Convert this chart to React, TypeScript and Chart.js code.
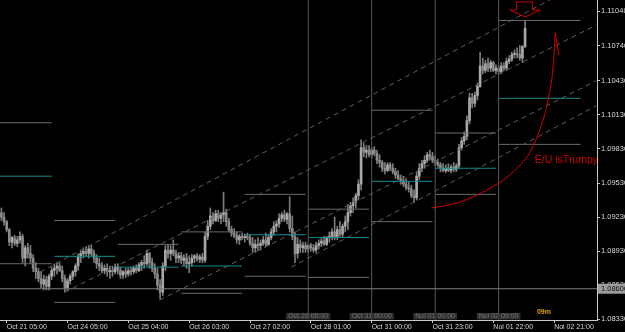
import React, { useEffect, useRef } from "react";
import { Chart, registerables } from "chart.js";

Chart.register(...registerables);

// ---------- data (prices expressed in pips above BASE_PRICE) ----------
const BASE_PRICE = 1.08;
const PIP = 0.0001;
const FIRST_BAR = -2; // bar index of the first candle (bar 0 = Oct 21 05:00, H1)

const openPips = [
  127, 123, 119, 112, 101, 105, 100, 103, 106, 87, 96, 91, 87, 78, 75, 69, 64, 68, 62, 71,
  76, 78, 80, 76, 69, 61, 67, 71, 75, 80, 88, 91, 93, 91, 95, 91, 87, 82, 80, 76,
  78, 75, 76, 75, 79, 76, 72, 75, 73, 76, 75, 78, 76, 81, 83, 82, 91, 83, 78, 73,
  63, 57, 80, 94, 91, 94, 91, 87, 89, 85, 87, 82, 83, 87, 89, 86, 88, 85, 106, 115,
  124, 120, 126, 122, 125, 127, 119, 112, 109, 107, 103, 106, 105, 106, 105, 100, 96, 99, 98, 100,
  103, 99, 105, 110, 115, 117, 122, 125, 121, 126, 113, 106, 91, 99, 96, 98, 95, 98, 96, 94,
  98, 100, 102, 99, 105, 106, 110, 106, 112, 108, 115, 119, 127, 133, 136, 142, 152, 184, 180, 182,
  178, 182, 179, 173, 171, 166, 164, 169, 166, 163, 160, 157, 155, 152, 149, 148, 142, 140, 159, 166,
  170, 173, 178, 176, 173, 171, 169, 166, 164, 166, 164, 167, 165, 168, 184, 190, 194, 208, 228, 223,
  230, 238, 256, 252, 258, 254, 259, 252, 254, 251, 256, 254, 260, 262, 266, 267, 266, 263, 273,
];
const highPips = [
  131, 127, 120, 113, 106, 107, 106, 110, 108, 98, 100, 98, 90, 83, 78, 75, 72, 71, 73, 79,
  82, 83, 83, 80, 72, 69, 73, 76, 82, 91, 94, 96, 97, 98, 98, 94, 90, 87, 83, 81,
  82, 80, 80, 82, 82, 79, 76, 78, 78, 79, 80, 81, 83, 85, 89, 94, 92, 87, 82, 78,
  68, 83, 98, 99, 98, 103, 94, 92, 92, 90, 91, 89, 90, 90, 91, 90, 91, 110, 120, 131,
  127, 129, 129, 127, 145, 130, 122, 115, 113, 110, 108, 109, 108, 109, 107, 105, 103, 105, 103, 106,
  109, 108, 113, 119, 120, 126, 127, 129, 127, 141, 124, 110, 105, 103, 101, 101, 99, 100, 99, 101,
  103, 105, 106, 106, 110, 113, 123, 115, 119, 117, 124, 134, 136, 140, 144, 156, 191, 188, 186, 186,
  184, 185, 182, 178, 173, 171, 171, 171, 170, 166, 164, 160, 159, 157, 154, 151, 147, 163, 170, 173,
  177, 180, 182, 180, 177, 174, 171, 170, 169, 170, 169, 171, 170, 187, 193, 198, 212, 232, 232, 233,
  241, 268, 263, 261, 263, 261, 260, 257, 256, 259, 259, 263, 265, 268, 270, 272, 274, 274, 296,
];
const lowPips = [
  120, 116, 110, 98, 96, 98, 97, 100, 83, 80, 87, 83, 75, 69, 66, 61, 59, 59, 59, 68,
  71, 73, 75, 66, 57, 58, 64, 68, 71, 76, 83, 87, 89, 87, 89, 83, 78, 76, 74, 73,
  71, 69, 71, 73, 73, 69, 69, 70, 71, 72, 73, 74, 75, 76, 78, 80, 78, 75, 69, 59,
  51, 54, 76, 87, 85, 89, 83, 83, 82, 80, 78, 74, 80, 83, 84, 83, 83, 83, 103, 112,
  117, 119, 119, 117, 119, 115, 110, 106, 105, 100, 99, 103, 101, 103, 98, 92, 92, 94, 94, 98,
  97, 98, 103, 107, 110, 114, 119, 119, 117, 110, 103, 83, 87, 92, 92, 92, 92, 93, 92, 92,
  95, 97, 98, 98, 101, 103, 103, 103, 106, 105, 110, 112, 124, 127, 131, 138, 147, 176, 175, 176,
  175, 177, 170, 167, 163, 161, 163, 164, 161, 157, 156, 152, 150, 147, 145, 140, 136, 138, 156, 163,
  166, 171, 173, 171, 168, 167, 163, 163, 162, 163, 162, 163, 163, 166, 182, 187, 191, 205, 219, 220,
  226, 237, 249, 250, 251, 251, 251, 249, 249, 249, 252, 252, 258, 260, 263, 263, 261, 259, 272,
];
const closePips = [
  123, 119, 112, 101, 105, 100, 103, 106, 87, 96, 91, 87, 78, 75, 69, 64, 68, 62, 71, 76,
  78, 80, 76, 69, 61, 67, 71, 75, 80, 88, 91, 93, 91, 95, 91, 87, 82, 80, 76, 78,
  75, 76, 75, 79, 76, 72, 75, 73, 76, 75, 78, 76, 81, 83, 82, 91, 83, 78, 73, 63,
  57, 80, 94, 91, 94, 91, 87, 89, 85, 87, 82, 83, 87, 89, 86, 88, 85, 106, 115, 124,
  120, 126, 122, 125, 127, 119, 112, 109, 107, 103, 106, 105, 106, 105, 100, 96, 99, 98, 100, 103,
  99, 105, 110, 115, 117, 122, 125, 121, 126, 113, 106, 91, 99, 96, 98, 95, 98, 96, 94, 98,
  100, 102, 99, 105, 106, 110, 106, 112, 108, 115, 119, 127, 133, 136, 142, 152, 184, 180, 182, 178,
  182, 179, 173, 171, 166, 164, 169, 166, 163, 160, 157, 155, 152, 149, 148, 142, 140, 159, 166, 170,
  173, 178, 176, 173, 171, 169, 166, 164, 166, 164, 167, 165, 168, 184, 190, 194, 208, 228, 223, 230,
  238, 256, 252, 258, 254, 259, 252, 254, 251, 256, 254, 260, 262, 266, 267, 266, 263, 273, 289,
];

// axis ticks
const xTickBars = [0, 23, 46, 69, 92, 115, 138, 161, 184, 207];
const xTickLabels = [
  "Oct 21 05:00", "Oct 24 05:00", "Oct 25 04:00", "Oct 26 03:00", "Oct 27 02:00",
  "Oct 28 01:00", "Oct 31 00:00", "Oct 31 23:00", "Noi 01 22:00", "Noi 02 21:00",
];
const yTickValues = [1.1104, 1.1074, 1.1043, 1.1013, 1.0983, 1.0953, 1.0923, 1.0893, 1.0863, 1.0833];
const yTickLabels = [
  "1.11040", "1.10740", "1.10430", "1.10130", "1.09830",
  "1.09530", "1.09230", "1.08930", "1.08630", "1.08330",
];
const Y_MIN = 1.08325;
const Y_MAX = 1.1114;
const X_MIN = -2.53;
const X_MAX = 223.2;

// day separators (vertical lines)
const separatorBars = [114, 138, 162, 186];
const separatorLabels = ["Oct 28 00:00", "Oct 31 00:00", "Noi 01 00:00", "Noi 02 00:00"];

// daily levels (pips)
const daySegStart = [-3, 18, 42, 66, 90, 114, 138, 162, 186];
const daySegEnd = [17, 41, 65, 89, 113, 137, 161, 185, 217];
const dayUpperPips = [206, 120, 99, 110, 143, 130, 217, 197, 296];
const dayPivotPips = [159, 88.5, 79, 80, 107.5, 105, 154.5, 166, 227.5];
const dayLowerPips: (number | null)[] = [82, 48, null, 56, 71, 70, 119, 143, 187];

// horizontal line
const hLinePrice = 1.086;
const hLineLabel = "1.08600";

// dashed channel lines
const channelStartBar = [12.6, 22, 57.8, 107.6];
const channelStartPips = [74.7, 57, 50, 79];
const channelEndBar = [223, 223, 223, 223];
const channelEndPips = [336, 292, 243, 221];

// red hand-drawn curve
const curveBars = [160.8, 171.4, 181.6, 189.2, 194.1, 197.9, 202.8, 204.7, 206.6, 207.4];
const curvePips = [131, 136.3, 146.9, 158.3, 168.8, 180.3, 208.4, 226, 255.1, 285];
const barbBars = [207.4, 208.8];
const barbPips = [285, 265.6];

// annotations
const arrowBar = 196;
const noteText = "E/U isTrumpy";
const noteBar = 199.7;
const notePips = 173;
const timerText = "09m";
const timerBar = 200.5;

// ---------- styles ----------
const FONT = '"Liberation Sans", Arial, sans-serif';
const AXIS = "#c8c8c8";
const TEXT = "#d8d8d8";
const WICK = "#7c7c7c";
const BULL = "#a8a8a8";
const BEAR = "#8a8a8a";
const LEVEL_GRAY = "#6a6a6a";
const TEAL = "#128c8c";
const SEP = "#585858";
const DASH = "#5e5e5e";
const RED = "#d20000";

const price = (p: number) => BASE_PRICE + p * PIP;

export default function App() {
  const ref = useRef<HTMLCanvasElement>(null);

  useEffect(() => {
    const canvas = ref.current;
    if (!canvas) return;

    const wickData = openPips.map((_, k) => ({ x: FIRST_BAR + k, y: [price(lowPips[k]), price(highPips[k])] }));
    const bodyData = openPips.map((o, k) => ({
      x: FIRST_BAR + k,
      y: [price(Math.min(o, closePips[k])), price(Math.max(o, closePips[k]))],
    }));
    const bodyColors = openPips.map((o, k) => (closePips[k] >= o ? BULL : BEAR));

    const segData = (vals: (number | null)[]) => {
      const out: any[] = [];
      vals.forEach((v, k) => {
        if (v === null) return;
        out.push({ x: daySegStart[k], y: price(v) });
        out.push({ x: daySegEnd[k], y: price(v) });
        out.push({ x: daySegEnd[k] + 0.3, y: null });
      });
      return out;
    };
    const sepData: any[] = [];
    separatorBars.forEach((b) => {
      sepData.push({ x: b, y: Y_MIN }, { x: b, y: Y_MAX }, { x: b + 0.3, y: null });
    });
    const chanData: any[] = [];
    channelStartBar.forEach((s, k) => {
      chanData.push(
        { x: s, y: price(channelStartPips[k]) },
        { x: channelEndBar[k], y: price(channelEndPips[k]) },
        { x: channelEndBar[k] + 0.3, y: null }
      );
    });
    const curveData = curveBars.map((b, k) => ({ x: b, y: price(curvePips[k]) }));
    const barbData = barbBars.map((b, k) => ({ x: b, y: price(barbPips[k]) }));

    const lineBase = { type: "line", pointRadius: 0, borderWidth: 1, fill: false, spanGaps: false, tension: 0 };

    const overlay = {
      id: "overlay",
      afterDatasetsDraw(chart: any) {
        const { ctx, chartArea, scales } = chart;
        const xs = scales.x;
        const ys = scales.y;
        ctx.save();
        // arrow above last bar
        const ax = xs.getPixelForValue(arrowBar);
        const ay = ys.getPixelForValue(price(highPips[arrowBar - FIRST_BAR])) - 3.5;
        ctx.strokeStyle = RED;
        ctx.lineWidth = 1;
        ctx.beginPath();
        ctx.moveTo(ax, ay);
        ctx.lineTo(ax - 15, ay - 7);
        ctx.lineTo(ax - 8.5, ay - 7);
        ctx.lineTo(ax - 8.5, ay - 15);
        ctx.lineTo(ax + 7.5, ay - 15);
        ctx.lineTo(ax + 7.5, ay - 7);
        ctx.lineTo(ax + 15, ay - 7);
        ctx.closePath();
        ctx.stroke();

        // note text
        ctx.save();
        ctx.beginPath();
        ctx.rect(chartArea.left, chartArea.top, chartArea.right - chartArea.left, chartArea.bottom - chartArea.top);
        ctx.clip();
        ctx.fillStyle = RED;
        ctx.font = `10.5px ${FONT}`;
        ctx.textAlign = "left";
        ctx.textBaseline = "middle";
        ctx.fillText(noteText, xs.getPixelForValue(noteBar), ys.getPixelForValue(price(notePips)));
        ctx.restore();

        // separator labels
        ctx.font = `7px ${FONT}`;
        ctx.textAlign = "center";
        ctx.textBaseline = "middle";
        separatorBars.forEach((b, k) => {
          const px = xs.getPixelForValue(b);
          const w = ctx.measureText(separatorLabels[k]).width + 4;
          ctx.fillStyle = "#303030";
          ctx.fillRect(px - w / 2, chartArea.bottom - 7, w, 6.5);
          ctx.fillStyle = "#707070";
          ctx.fillText(separatorLabels[k], px, chartArea.bottom - 3.6);
        });

        // timer
        ctx.font = `bold 7px ${FONT}`;
        ctx.textAlign = "left";
        ctx.fillStyle = "#dba800";
        ctx.fillText(timerText, xs.getPixelForValue(timerBar), chartArea.bottom - 7.5);
        ctx.restore();
      },
      afterDraw(chart: any) {
        const { ctx, chartArea, scales, width } = chart;
        const py = scales.y.getPixelForValue(hLinePrice);
        ctx.save();
        ctx.fillStyle = "#9c9c9c";
        ctx.fillRect(chartArea.right + 1, py - 5, width - chartArea.right - 1, 10);
        ctx.fillStyle = "#101010";
        ctx.font = `7.5px ${FONT}`;
        ctx.textAlign = "left";
        ctx.textBaseline = "middle";
        ctx.fillText(hLineLabel, chartArea.right + 4, py + 0.5);
        ctx.restore();
      },
    };

    const chart = new Chart(canvas, {
      type: "bar",
      data: {
        datasets: [
          { ...lineBase, label: "curve", data: curveData, borderColor: RED, cubicInterpolationMode: "monotone", order: 0 },
          { ...lineBase, label: "barb", data: barbData, borderColor: RED, order: 0 },
          {
            ...lineBase,
            label: "hline",
            data: [{ x: X_MIN, y: hLinePrice }, { x: X_MAX, y: hLinePrice }],
            borderColor: "#7c7c7c",
            order: 1,
          },
          { ...lineBase, label: "upper", data: segData(dayUpperPips), borderColor: LEVEL_GRAY, order: 1 },
          { ...lineBase, label: "pivot", data: segData(dayPivotPips), borderColor: TEAL, order: 1 },
          { ...lineBase, label: "lower", data: segData(dayLowerPips), borderColor: LEVEL_GRAY, order: 1 },
          { ...lineBase, label: "channel", data: chanData, borderColor: DASH, borderDash: [5, 4], order: 2 },
          { ...lineBase, label: "separators", data: sepData, borderColor: SEP, order: 3 },
          {
            type: "bar",
            label: "bodies",
            data: bodyData,
            backgroundColor: bodyColors,
            barThickness: 2,
            grouped: false,
            minBarLength: 1,
            order: 4,
          },
          {
            type: "bar",
            label: "wicks",
            data: wickData,
            backgroundColor: WICK,
            barThickness: 1,
            grouped: false,
            order: 5,
          },
        ] as any,
      },
      options: {
        animation: false,
        responsive: true,
        maintainAspectRatio: false,
        events: [],
        layout: { padding: 0 },
        plugins: { legend: { display: false }, tooltip: { enabled: false }, title: { display: false } },
        scales: {
          x: {
            type: "linear",
            position: "bottom",
            min: X_MIN,
            max: X_MAX,
            offset: false,
            grid: { display: true, drawOnChartArea: false, drawTicks: true, tickLength: 3, color: AXIS, offset: false },
            border: { display: true, color: AXIS, width: 1 },
            ticks: {
              autoSkip: false,
              maxRotation: 0,
              minRotation: 0,
              align: "start",
              padding: 0,
              color: TEXT,
              font: { family: FONT, size: 7 },
              callback: (_v: any, i: number) => xTickLabels[i],
            },
            afterBuildTicks: (s: any) => {
              s.ticks = xTickBars.map((v) => ({ value: v }));
            },
            afterFit: (s: any) => {
              s.height = 12;
              s.paddingLeft = 0;
              s.paddingRight = 0;
              s.paddingTop = 0;
              s.paddingBottom = 0;
            },
          },
          y: {
            type: "linear",
            position: "right",
            min: Y_MIN,
            max: Y_MAX,
            beginAtZero: false,
            grid: { display: true, drawOnChartArea: false, drawTicks: true, tickLength: 3, color: AXIS },
            border: { display: true, color: AXIS, width: 1 },
            ticks: {
              autoSkip: false,
              padding: 1,
              color: TEXT,
              font: { family: FONT, size: 7.5 },
              callback: (_v: any, i: number) => yTickLabels[i],
            },
            afterBuildTicks: (s: any) => {
              s.ticks = yTickValues.map((v) => ({ value: v }));
            },
            afterFit: (s: any) => {
              s.width = 28;
              s.paddingLeft = 0;
              s.paddingRight = 0;
              s.paddingTop = 0;
              s.paddingBottom = 0;
            },
          },
        },
      } as any,
      plugins: [overlay],
    });

    return () => chart.destroy();
  }, []);

  return (
    <div style={{ position: "fixed", left: 0, top: 0, width: 625, height: 332, background: "#000" }}>
      <canvas ref={ref} />
    </div>
  );
}
